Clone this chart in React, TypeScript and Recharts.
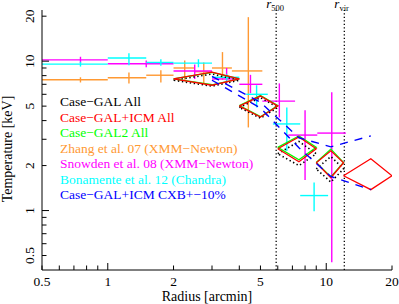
import type { FC } from 'react'
import { ComposedChart, Scatter, XAxis, YAxis, ErrorBar, ReferenceLine, Legend } from 'recharts'

// log axis ticks
const xTicks = [0.5, 0.6, 0.7, 0.8, 0.9, 1, 2, 3, 4, 5, 6, 7, 8, 9, 10, 20]
const yTicks = [0.5, 0.6, 0.7, 0.8, 0.9, 1, 2, 3, 4, 5, 6, 7, 8, 9, 10, 20]
const tickLabels = [0.5, 1, 2, 5, 10, 20]
const majorTicks = [1, 10]

// r500 / rvir [arcmin]
const radiusNames = ['500', 'vir']
const radiusValues = [5.9, 12.1]

// Zhang et al. 07
const zhangR = [0.75, 1.25, 1.75, 2.25, 2.75, 3.35, 4.4]
const zhangRLo = [0.5, 1.0, 1.5, 2.0, 2.5, 3.0, 3.7]
const zhangRHi = [1.0, 1.5, 2.0, 2.5, 3.0, 3.7, 5.1]
const zhangT = [7.5, 7.75, 8.05, 9.0, 8.5, 9.0, 8.6]
const zhangTLo = [7.2, 7.1, 7.2, 7.5, 7.1, 7.5, 3.6]
const zhangTHi = [7.8, 8.4, 8.7, 10.1, 9.8, 11.5, 19.7]

// Snowden et al. 08
const snowdenR = [0.75, 1.5, 2.5, 3.5, 4.5, 6.1, 8.0, 10.6]
const snowdenRLo = [0.5, 1.0, 2.0, 3.0, 4.0, 5.1, 6.7, 9.1]
const snowdenRHi = [1.0, 2.0, 3.0, 4.0, 5.1, 7.2, 9.1, 12.3]
const snowdenT = [10.2, 9.6, 8.6, 7.6, 7.0, 5.4, 3.2, 3.3]
const snowdenTLo = [9.7, 9.1, 7.6, 7.1, 6.1, 4.2, 1.6, 0.45]
const snowdenTHi = [10.7, 10.1, 9.5, 9.0, 8.1, 7.1, 4.7, 6.2]

// Bonamente et al. 12
const bonamenteR = [0.75, 1.25, 1.75, 2.6, 3.5, 4.8, 6.6, 8.8]
const bonamenteRLo = [0.5, 1.0, 1.5, 2.0, 3.0, 4.3, 5.7, 7.6]
const bonamenteRHi = [1.0, 1.5, 2.0, 3.0, 4.0, 5.4, 7.6, 10.2]
const bonamenteT = [9.55, 10.5, 9.8, 9.7, 7.8, 6.0, 3.8, 1.26]
const bonamenteTLo = [9.2, 9.4, 9.3, 9.1, 7.4, 4.9, 2.5, 0.99]
const bonamenteTHi = [9.9, 11.3, 10.3, 10.3, 8.2, 6.9, 4.9, 1.54]

// simulated profiles: radial bins and temperature ranges
const binLo = [2, 4, 6, 9, 12]
const binHi = [4, 6, 9, 12, 20]
const galT = [7.45, 4.9, 2.4, 1.9]
const galTLo = [6.8, 4.15, 2.0, 1.55]
const galTHi = [8.2, 5.7, 2.9, 2.3]
const galIcmT = [7.6, 5.0, 2.59, 2.09, 1.71]
const galIcmTLo = [6.9, 4.23, 2.12, 1.66, 1.38]
const galIcmTHi = [8.45, 5.84, 3.11, 2.51, 2.22]
const gal2T = [7.6, 5.05, 2.65, 2.1]
const gal2TLo = [6.95, 4.25, 2.19, 1.68]
const gal2THi = [8.4, 5.9, 3.16, 2.58]

// CXB +-10%
const cxbR = [3, 5, 7.5, 10.5, 16]
const cxbHiT = [7.9, 5.3, 3.07, 2.67, 3.16]
const cxbLoT = [7.45, 4.86, 2.63, 1.69, 1.38]

const legendNames = [
  'Case\u2212GAL All',
  'Case\u2212GAL+ICM All',
  'Case\u2212GAL2 All',
  'Zhang et al. 07 (XMM\u2212Newton)',
  'Snowden et al. 08 (XMM\u2212Newton)',
  'Bonamente et al. 12 (Chandra)',
  'Case\u2212GAL+ICM CXB+\u221210%'
]
const legendColors = ['#000000', '#ff0000', '#00ff00', '#ff9933', '#ff00ff', '#00ffff', '#0000ff']

const crosses = (r: number[], rLo: number[], rHi: number[], t: number[], tLo: number[], tHi: number[]) =>
  r.map((v, i) => ({
    rad: v,
    temp: t[i],
    xErr: [v - rLo[i], rHi[i] - v],
    yErr: [t[i] - tLo[i], tHi[i] - t[i]]
  }))

const diamonds = (t: number[], tLo: number[], tHi: number[]) =>
  t.map((v, i) => {
    const mid = (binLo[i] + binHi[i]) / 2
    return [
      { rad: binLo[i], temp: v },
      { rad: mid, temp: tHi[i] },
      { rad: binHi[i], temp: v },
      { rad: mid, temp: tLo[i] },
      { rad: binLo[i], temp: v }
    ]
  })

const profile = (t: number[]) => cxbR.map((r, i) => ({ rad: r, temp: t[i] }))

const noShape = () => <g />

const tickLen = (v: number) => (majorTicks.includes(v) ? 7 : 4.5)

const BottomTick = ({ x, y, payload }: any) => (
  <g>
    <line x1={x} x2={x} y1={y} y2={y - tickLen(payload.value)} stroke="#000" />
    {tickLabels.includes(payload.value) && (
      <text x={x} y={y + 16} textAnchor="middle" fontSize={13.5} fill="#000">{payload.value}</text>
    )}
  </g>
)
const TopTick = ({ x, y, payload }: any) => (
  <line x1={x} x2={x} y1={y} y2={y + tickLen(payload.value)} stroke="#000" />
)
const LeftTick = ({ x, y, payload }: any) => (
  <g>
    <line x1={x} x2={x + tickLen(payload.value)} y1={y} y2={y} stroke="#000" />
    {tickLabels.includes(payload.value) && (
      <text x={34.5} y={y} textAnchor="middle" fontSize={13.5} fill="#000" transform={`rotate(-90, 34.5, ${y})`}>
        {payload.value}
      </text>
    )}
  </g>
)
const RightTick = ({ x, y, payload }: any) => (
  <line x1={x} x2={x - tickLen(payload.value)} y1={y} y2={y} stroke="#000" />
)

const LegendBox: FC = () => (
  <div style={{ fontSize: 13.5, lineHeight: '15.5px', whiteSpace: 'nowrap' }}>
    {legendNames.map((n, i) => (
      <div key={n} style={{ color: legendColors[i] }}>{n}</div>
    ))}
  </div>
)

const obsSeries = [
  { data: crosses(zhangR, zhangRLo, zhangRHi, zhangT, zhangTLo, zhangTHi), color: legendColors[3] },
  { data: crosses(snowdenR, snowdenRLo, snowdenRHi, snowdenT, snowdenTLo, snowdenTHi), color: legendColors[4] },
  { data: crosses(bonamenteR, bonamenteRLo, bonamenteRHi, bonamenteT, bonamenteTLo, bonamenteTHi), color: legendColors[5] }
]

export default function App() {
  return (
    <div style={{ position: 'absolute', left: 0, top: 0, fontFamily: '"Liberation Serif", "Times New Roman", serif' }}>
      <ComposedChart width={399} height={304} margin={{ top: 10, right: 7, bottom: 0, left: 0 }}>
        <XAxis
          dataKey="rad"
          type="number"
          scale="log"
          domain={[0.5, 20]}
          allowDataOverflow
          ticks={xTicks}
          interval={0}
          tick={BottomTick}
          tickLine={false}
          tickSize={0}
          tickMargin={0}
          height={34}
          axisLine={{ stroke: '#000' }}
          label={({ viewBox }: any) => (
            <text x={viewBox.x + viewBox.width / 2 - 10} y={viewBox.y + 31} textAnchor="middle" fontSize={14} fill="#000">
              Radius [arcmin]
            </text>
          )}
        />
        <XAxis
          xAxisId="top"
          orientation="top"
          type="number"
          scale="log"
          domain={[0.5, 20]}
          allowDataOverflow
          ticks={xTicks}
          interval={0}
          tick={TopTick}
          tickLine={false}
          tickSize={0}
          tickMargin={0}
          height={0}
          axisLine={{ stroke: '#000' }}
        />
        <YAxis
          dataKey="temp"
          type="number"
          scale="log"
          domain={[0.4, 22]}
          allowDataOverflow
          ticks={yTicks}
          interval={0}
          tick={LeftTick}
          tickLine={false}
          tickSize={0}
          tickMargin={0}
          width={42}
          axisLine={{ stroke: '#000' }}
          label={({ viewBox }: any) => (
            <text
              x={viewBox.x + 12}
              y={viewBox.y + 139}
              textAnchor="middle"
              fontSize={14}
              fill="#000"
              transform={`rotate(-90, ${viewBox.x + 12}, ${viewBox.y + 139})`}
            >
              Temperature [keV]
            </text>
          )}
        />
        <YAxis
          yAxisId="right"
          orientation="right"
          type="number"
          scale="log"
          domain={[0.4, 22]}
          allowDataOverflow
          ticks={yTicks}
          interval={0}
          tick={RightTick}
          tickLine={false}
          tickSize={0}
          tickMargin={0}
          width={0}
          axisLine={{ stroke: '#000' }}
        />

        {radiusValues.map((v, i) => (
          <ReferenceLine
            key={radiusNames[i]}
            x={v}
            stroke="#000"
            strokeWidth={1.3}
            strokeDasharray="1.3 2.2"
            label={({ viewBox }: any) => (
              <text x={viewBox.x - 10} y={viewBox.y - 2} fill="#000">
                <tspan fontStyle="italic" fontSize={13}>r</tspan>
                <tspan fontSize={8.5} dy={2.5}>{radiusNames[i]}</tspan>
              </text>
            )}
          />
        ))}

        {diamonds(galT, galTLo, galTHi).map((d, i) => (
          <Scatter
            key={`gal${i}`}
            data={d}
            fill="#000"
            shape={noShape}
            line={{ stroke: '#000', strokeWidth: 1.6, strokeDasharray: '1.4 2.6' }}
            lineType="joint"
            isAnimationActive={false}
          />
        ))}
        {diamonds(gal2T, gal2TLo, gal2THi).map((d, i) => (
          <Scatter
            key={`gal2${i}`}
            data={d}
            fill="#00ff00"
            shape={noShape}
            line={{ stroke: '#00ff00', strokeWidth: 1.3 }}
            lineType="joint"
            isAnimationActive={false}
          />
        ))}
        {diamonds(galIcmT, galIcmTLo, galIcmTHi).map((d, i) => (
          <Scatter
            key={`icm${i}`}
            data={d}
            fill="#ff0000"
            shape={noShape}
            line={{ stroke: '#ff0000', strokeWidth: 1.3 }}
            lineType="joint"
            isAnimationActive={false}
          />
        ))}
        {[cxbHiT, cxbLoT].map((t, i) => (
          <Scatter
            key={`cxb${i}`}
            data={profile(t)}
            fill="#0000ff"
            shape={noShape}
            line={{ stroke: '#0000ff', strokeWidth: 1.4, strokeDasharray: '8 7' }}
            lineType="joint"
            isAnimationActive={false}
          />
        ))}

        {obsSeries.map((s, i) => (
          <Scatter key={`obs${i}`} data={s.data} fill={s.color} shape={noShape} isAnimationActive={false}>
            <ErrorBar dataKey="xErr" direction="x" width={0} stroke={s.color} strokeWidth={1.4} />
            <ErrorBar dataKey="yErr" direction="y" width={0} stroke={s.color} strokeWidth={1.4} />
          </Scatter>
        ))}

        <Legend
          content={<LegendBox />}
          layout="vertical"
          align="center"
          verticalAlign="middle"
          wrapperStyle={{ left: 60, top: 94, width: 260, height: 110 }}
        />
      </ComposedChart>
    </div>
  )
}
